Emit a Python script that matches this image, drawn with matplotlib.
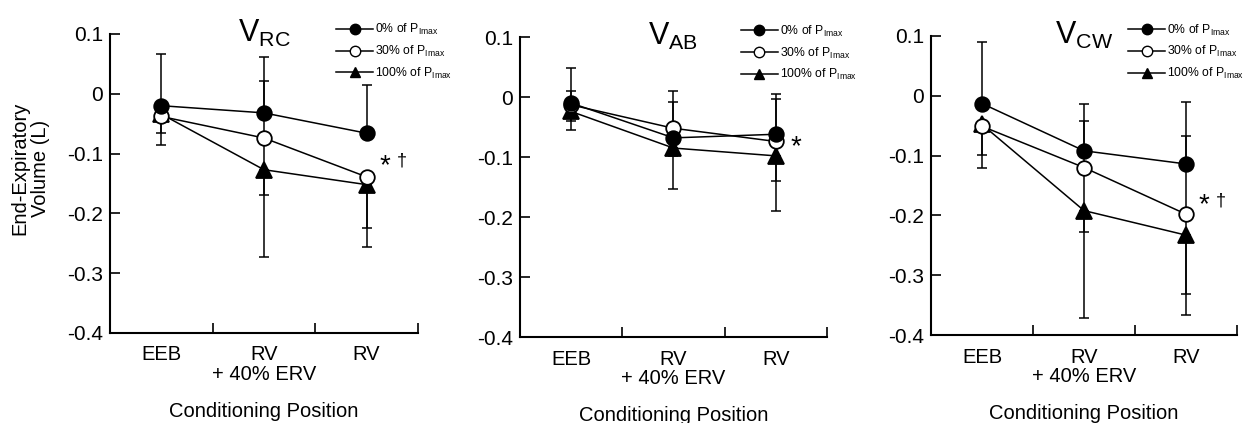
import numpy as np
import matplotlib
matplotlib.use('Agg')
import matplotlib.pyplot as plt
from matplotlib.lines import Line2D

plt.rcParams['font.family'] = ['Liberation Sans', 'DejaVu Sans']
plt.rcParams['mathtext.fontset'] = 'custom'
plt.rcParams['mathtext.rm'] = 'Liberation Sans'
plt.rcParams['mathtext.it'] = 'Liberation Sans'

# categories / labels
positions = ['EEB', 'RV\n+ 40% ERV', 'RV']
series = ['0% of P$_{\\mathrm{Imax}}$', '30% of P$_{\\mathrm{Imax}}$', '100% of P$_{\\mathrm{Imax}}$']
titles = ['V$_{\\mathrm{RC}}$', 'V$_{\\mathrm{AB}}$', 'V$_{\\mathrm{CW}}$']
has_dagger = [True, False, True]
ytick_vals = [0.1, 0, -0.1, -0.2, -0.3, -0.4]
ytick_text = ['0.1', '0', '-0.1', '-0.2', '-0.3', '-0.4']

# means: rows = 0%, 30%, 100% ; cols = EEB, RV+40%ERV, RV
rc_mean = [[-0.020, -0.032, -0.066],
           [-0.038, -0.074, -0.139],
           [-0.034, -0.127, -0.152]]
ab_mean = [[-0.010, -0.068, -0.062],
           [-0.013, -0.052, -0.074],
           [-0.024, -0.085, -0.098]]
cw_mean = [[-0.013, -0.092, -0.114],
           [-0.051, -0.120, -0.198],
           [-0.048, -0.192, -0.233]]

# error bar ends (nan = not drawn)
nan = np.nan
rc_hi = [[0.067, 0.061, 0.014], [nan, 0.021, nan], [nan, nan, nan]]
rc_lo = [[nan, nan, nan], [-0.066, -0.170, -0.225], [-0.086, -0.273, -0.257]]
ab_hi = [[0.048, 0.010, 0.005], [0.010, -0.008, -0.004], [nan, nan, nan]]
ab_lo = [[nan, -0.098, nan], [-0.040, nan, -0.140], [-0.055, -0.153, -0.190]]
cw_hi = [[0.090, -0.014, -0.010], [nan, -0.043, -0.068], [nan, nan, nan]]
cw_lo = [[nan, nan, nan], [-0.099, -0.228, -0.332], [-0.121, -0.372, -0.366]]

panels = [(rc_mean, rc_hi, rc_lo), (ab_mean, ab_hi, ab_lo), (cw_mean, cw_hi, cw_lo)]

ax_rects = [[0.088, 0.2128, 0.2466, 0.707],
            [0.4163, 0.2033, 0.2458, 0.709],
            [0.7454, 0.2080, 0.2450, 0.707]]
leg_anchor = [(0.735, 1.04), (0.72, 1.045), (0.645, 1.045)]
mark_x = [2.68, 2.70, 2.68]
mark_y = [-0.1125, -0.075, -0.1755]

styles = [dict(marker='o', mfc='black'),
          dict(marker='o', mfc='white'),
          dict(marker='^', mfc='black')]

x = np.arange(3) + 0.5

fig = plt.figure(figsize=(12.49, 4.23), dpi=100)

for i, (mean, hi, lo) in enumerate(panels):
    ax = fig.add_axes(ax_rects[i])
    mean = np.array(mean); hi = np.array(hi); lo = np.array(lo)
    for s in range(3):
        m = mean[s]
        up = ~np.isnan(hi[s])
        if up.any():
            ax.errorbar(x[up], m[up], yerr=[np.zeros(up.sum()), hi[s][up] - m[up]],
                        fmt='none', ecolor='black', elinewidth=1.1, capsize=3.3, capthick=1.1, zorder=2)
        dn = ~np.isnan(lo[s])
        if dn.any():
            ax.errorbar(x[dn], m[dn], yerr=[m[dn] - lo[s][dn], np.zeros(dn.sum())],
                        fmt='none', ecolor='black', elinewidth=1.1, capsize=3.3, capthick=1.1, zorder=2)
        ax.plot(x, m, color='black', lw=1.1, ms=10.5 if s < 2 else 11, mec='black', mew=1.3,
                zorder=3 + (2 - s), **styles[s])

    ax.set_xlim(0, 3)
    ax.set_ylim(-0.4, 0.1)
    ax.spines['top'].set_visible(False)
    ax.spines['right'].set_visible(False)
    ax.spines['left'].set_linewidth(1.5)
    ax.spines['bottom'].set_linewidth(1.5)

    ax.set_yticks(ytick_vals)
    ax.set_yticklabels(ytick_text, fontsize=15)
    ax.tick_params(axis='y', direction='in', length=7, width=1.2, pad=5)

    ax.set_xticks([1, 2, 3])
    ax.set_xticklabels([])
    ax.set_xticks(x, minor=True)
    ax.set_xticklabels(positions, minor=True, fontsize=14.5, linespacing=1.05)
    ax.tick_params(axis='x', which='major', direction='in', length=7, width=1.2)
    ax.tick_params(axis='x', which='minor', length=0, pad=9)
    ax.set_xlabel('Conditioning Position', fontsize=14.5, labelpad=13)

    ax.text(0.5, 0.973, titles[i], transform=ax.transAxes, ha='center', va='baseline',
            fontsize=22)
    ax.annotate('*', (mark_x[i], mark_y[i]), xytext=(0, -3.5), textcoords='offset points',
                ha='center', va='center', fontsize=20)
    if has_dagger[i]:
        ax.annotate('\u2020', (mark_x[i], mark_y[i]), xytext=(12, 0), textcoords='offset points',
                    ha='center', va='center', fontsize=13)

    handles = [Line2D([], [], color='black', lw=1.1, ms=7.5, mec='black', **styles[s]) for s in range(3)]
    ax.legend(handles, series, loc='upper left', bbox_to_anchor=leg_anchor[i], frameon=False,
              fontsize=8.8, handlelength=3.0, handletextpad=0.2, labelspacing=0.55,
              borderpad=0, borderaxespad=0)

    if i == 0:
        ax.set_ylabel('End-Expiratory\nVolume (L)', fontsize=14.5, linespacing=1.1)
        ax.yaxis.set_label_coords(-0.195, 0.55)

fig.savefig('out.png', dpi=100)
